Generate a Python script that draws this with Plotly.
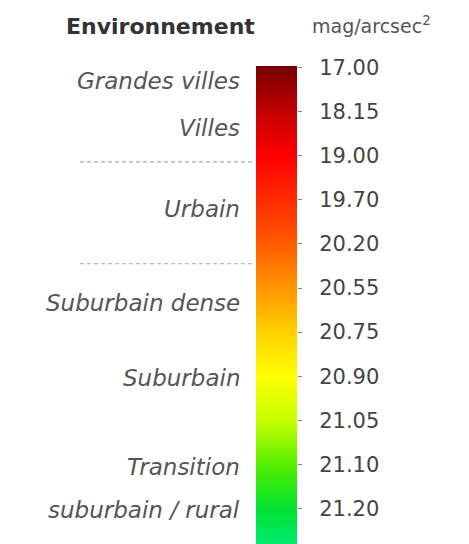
import plotly.graph_objects as go

# ---- data ----
mag_labels = ["17.00", "18.15", "19.00", "19.70", "20.20", "20.55",
              "20.75", "20.90", "21.05", "21.10", "21.20", "21.30"]
mag_values = [float(v) for v in mag_labels]
level_colors = ["#780000", "#c20000", "#ff0000", "#ff2c00", "#ff5c00", "#ff9600",
                "#ffd200", "#ffff00", "#c8ff00", "#55ee00", "#00e232", "#00ee80"]

env_labels = ["Grandes villes", "Villes", "Urbain", "Suburbain dense",
              "Suburbain", "Transition", "suburbain / rural"]
env_levels = [0.30, 1.38, 3.2, 5.33, 7.04, 9.05, 10.02]   # position on the scale (tick index units)
separator_levels = [2.14, 4.45]

positions = list(range(len(mag_values)))
vmin, vmax = min(mag_values), max(mag_values)
colorscale = [[(v - vmin) / (vmax - vmin), c] for v, c in zip(mag_values, level_colors)]

FONT = "DejaVu Sans"

fig = go.Figure()
fig.add_trace(go.Heatmap(
    x=[0, 1], y=positions,
    z=[[v, v] for v in mag_values],
    colorscale=colorscale, zmin=vmin, zmax=vmax,
    zsmooth="best", showscale=False, hoverinfo="skip",
))

W, H = 469, 544
L, R, T, B = 256, 172, 66, 0
fig.update_layout(
    width=W, height=H,
    margin=dict(l=L, r=R, t=T, b=B, autoexpand=False),
    paper_bgcolor="white", plot_bgcolor="white",
    showlegend=False,
    xaxis=dict(range=[-0.5, 1.5], visible=False, fixedrange=True, automargin=False),
    yaxis=dict(
        range=[10.8, -0.03], side="right", automargin=False,
        tickvals=positions, ticktext=mag_labels,
        ticks="outside", ticklen=4, tickwidth=1, tickcolor="#888888",
        ticklabelstandoff=13,
        tickfont=dict(family=FONT, size=21, color="#444444"),
        showgrid=False, zeroline=False, showline=False,
    ),
)

plot_w = W - L - R
def px_to_paper_x(px):
    return (px - L) / plot_w

for txt, lvl in zip(env_labels, env_levels):
    fig.add_annotation(
        x=px_to_paper_x(242), xref="paper", y=lvl, yref="y",
        text=f"<i>{txt}</i>", showarrow=False, xanchor="right", yanchor="middle",
        font=dict(family=FONT, size=23, color="#555555"),
    )

for lvl in separator_levels:
    fig.add_shape(
        type="line", xref="paper", yref="y",
        x0=px_to_paper_x(80), x1=px_to_paper_x(252), y0=lvl, y1=lvl,
        line=dict(color="#9aa8c8", width=1.2, dash="4px,3px"),
    )

plot_h = H - T - B
def px_to_paper_y(py):
    return 1 - (py - T) / plot_h

fig.add_annotation(
    x=px_to_paper_x(160), xref="paper", y=px_to_paper_y(27), yref="paper",
    text="<b>Environnement</b>", showarrow=False, xanchor="center", yanchor="middle",
    font=dict(family=FONT, size=22, color="#333333"),
)
fig.add_annotation(
    x=px_to_paper_x(371), xref="paper", y=px_to_paper_y(25), yref="paper",
    text="mag/arcsec<sup>2</sup>", showarrow=False, xanchor="center", yanchor="middle",
    font=dict(family=FONT, size=19, color="#555555"),
)

fig.write_html("out.html", config={"displayModeBar": False},
               post_script="document.body.style.margin='0';document.body.style.padding='0';")
